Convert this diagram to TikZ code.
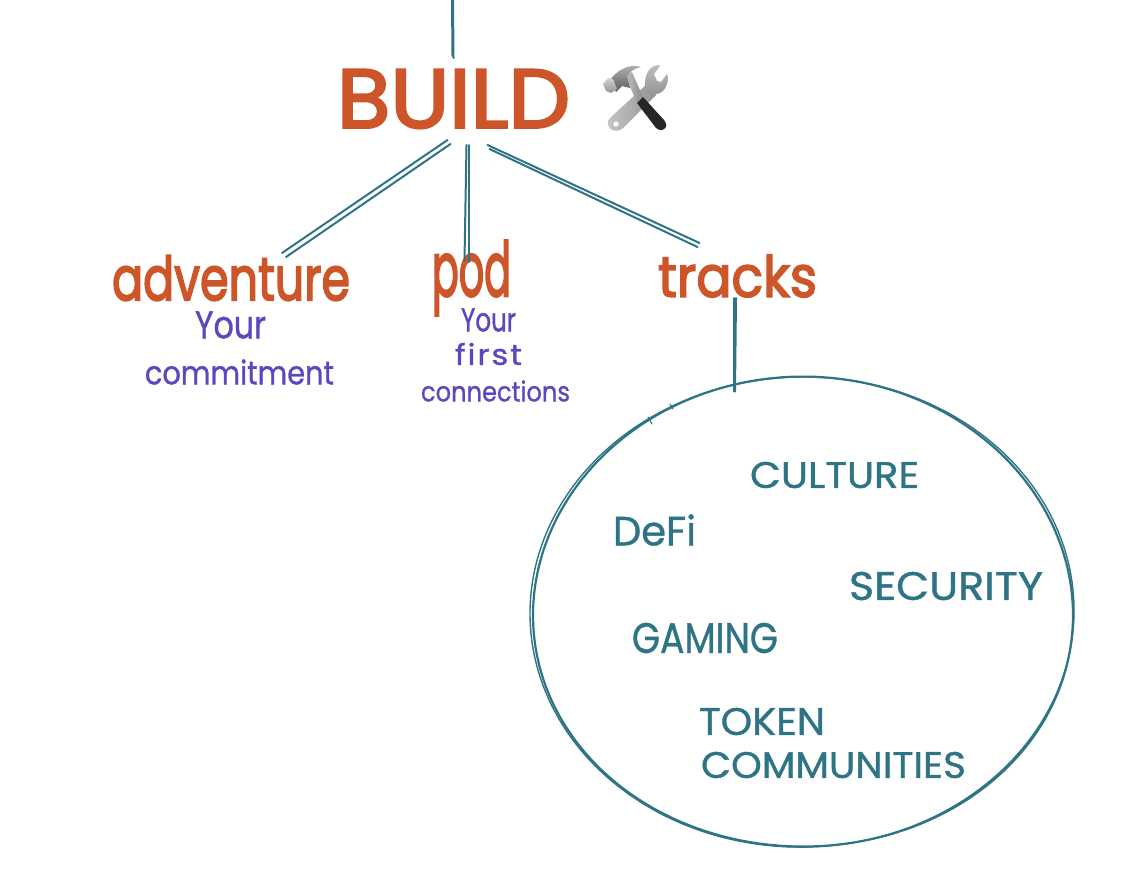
\documentclass[tikz,border=0pt]{standalone}
\usepackage{fontspec}
\usepackage{graphicx}
\setmainfont{Poppins}[Ligatures=CommonOff]
\usetikzlibrary{calc,shapes.geometric}
\definecolor{pen}{HTML}{CC5529}
\definecolor{teal}{HTML}{2F7485}
\definecolor{violet}{HTML}{5A48BF}
\tikzset{
  x=1pt,y=-1pt,
  word/.style={inner sep=0pt,outer sep=0pt,anchor=center},
  head/.style={word,text=pen},
  note/.style={word,text=violet},
  topic/.style={word,text=teal},
  sketch/.style={draw=teal,line width=2pt,line cap=round,line join=round},
  outline/.style={draw=teal,line width=2.2pt,line cap=round,line join=round},
}
% word fitted to its measured box
\newcommand{\fitw}[3]{\resizebox{#1pt}{#2pt}{#3}}
\begin{document}
\begin{tikzpicture}
\useasboundingbox (0,0) rectangle (1142,886);
\fill[white] (0,0) rectangle (1142,886);
% headings
\node[head] (build) at (453.5,99) {\fitw{233}{58}{\addfontfeature{FakeBold=3}BUILD}};
\node[head] (adventure) at (231,278) {\fitw{238}{45}{\addfontfeature{FakeBold=3}adventure}};
\node[head] (pod) at (471.5,278) {\fitw{79}{56}{\addfontfeature{FakeBold=3}pod}};
\node[head] (tracks) at (737.5,276) {\fitw{159}{42}{\addfontfeature{FakeBold=3}tracks}};
% notes
\node[note] (your1) at (230.5,325) {\fitw{71}{27}{\addfontfeature{FakeBold=1}Your}};
\node[note] (commitment) at (239.5,372) {\fitw{189}{25}{\addfontfeature{FakeBold=1}commitment}};
\node[note] (your2) at (488.5,320) {\fitw{55}{23}{\addfontfeature{FakeBold=1}Your}};
\node[note] (firstw) at (488.5,354) {\fitw{67}{22}{\addfontfeature{LetterSpace=6,FakeBold=1}first}};
\node[note] (connections) at (495.5,391) {\fitw{149}{21}{\addfontfeature{FakeBold=1}connections}};
% topics
\node[topic] (culture) at (834.5,475) {\fitw{169}{26}{\addfontfeature{FakeBold=1}CULTURE}};
\node[topic] (defi) at (654.5,530) {\fitw{83}{31}{\addfontfeature{FakeBold=1}DeFi}};
\node[topic] (security) at (946,586) {\fitw{194}{28}{\addfontfeature{FakeBold=1}SECURITY}};
\node[topic] (gaming) at (705,638) {\fitw{146}{30}{\addfontfeature{FakeBold=1}GAMING}};
\node[topic] (token) at (762,721.5) {\fitw{126}{27}{\addfontfeature{FakeBold=1}TOKEN}};
\node[topic] (communities) at (833.5,765) {\fitw{265}{26}{\addfontfeature{FakeBold=1}COMMUNITIES}};
% pool outline: two overlapping hand strokes
\node[ellipse,minimum width=542pt,minimum height=471pt,inner sep=0pt] (pool) at (803,612.5) {};
\draw[outline] plot[smooth,samples=80,domain=190:570,variable=\t] ({803+270*cos(\t)*(1+0.004*sin(3*\t))},{612.5+235*sin(\t)*(1+0.004*sin(3*\t))});
\draw[outline,line width=1.4pt] plot[smooth,samples=80,domain=130:490,variable=\t] ({802+271*cos(\t)*(1+0.005*cos(2*\t+40))},{612+236*sin(\t)*(1+0.005*cos(2*\t+40))});
% small pen ticks
\draw[sketch,line width=1.1pt] (648,417) -- (652,424);
\draw[sketch,line width=1.1pt] (670,404) -- (673,409);
% connectors
\coordinate (topstart) at (452,0);
\draw[sketch] (topstart) -- ([shift={(-1,-43)}]build.center);
\draw[sketch] ([xshift=1pt]topstart) -- ([shift={(0,-41)}]build.center);
\draw[sketch] ([shift={(-6,41)}]build.center) -- ([shift={(51,-25)}]adventure.center);
\draw[sketch] ([shift={(-3,45)}]build.center) -- ([shift={(55,-21)}]adventure.center);
\draw[sketch] ([shift={(13,46)}]build.center) -- ([shift={(-7,-18)}]pod.center);
\draw[sketch] ([shift={(15,46)}]build.center) -- ([shift={(-3,-16)}]pod.center);
\draw[sketch] ([shift={(34,46)}]build.center) -- ([shift={(-38,-33)}]tracks.center);
\draw[sketch] ([shift={(36,50)}]build.center) -- ([shift={(-40,-29)}]tracks.center);
\draw[sketch] ([shift={(-3.5,22)}]tracks.center) -- ([shift={(-69,-221)}]pool.center);
\draw[sketch] ([shift={(-1.5,22)}]tracks.center) -- ([shift={(-68,-221)}]pool.center);
% hammer and wrench
\begin{scope}
  % wrench shaft and ring
  \shade[left color=gray!45,right color=gray!85] (611,117) -- (646,85) -- (656,95) -- (623,128) .. controls (618,133) and (609,131) .. (608,125) .. controls (607,121) and (609,119) .. (611,117) -- cycle;
  \fill[white] (616,124) circle (2.6pt);
  % wrench jaw
  \shade[top color=gray!50,bottom color=gray!85] (645,88) .. controls (644,75) and (649,66) .. (658,65) -- (660,66) -- (654,74) -- (657,81) -- (661,82) -- (667,74) .. controls (669,76) and (668,86) .. (663,91) .. controls (659,95) and (652,95) .. (647,93) -- cycle;
  % hammer handle
  \shade[left color=gray!50,right color=gray!90] (625,75) -- (632,72) -- (643,97) -- (637,103) -- cycle;
  \fill[black!85] (637,103) -- (643,97) -- (664,120) .. controls (667,124) and (667,127) .. (664,129) .. controls (661,131) and (658,130) .. (656,128) -- cycle;
  % hammer head
  \shade[top color=gray!55,bottom color=black!65] (610,80) .. controls (617,70) and (630,63) .. (641,67) .. controls (634,69) and (630,71) .. (627,76) -- (630,88) -- (622,86) -- (616,92) -- cycle;
  \shade[top color=gray!35,bottom color=gray!85] (603,84) -- (608,78) -- (613,79) -- (617,89) -- (611,93) -- (606,91) -- cycle;
\end{scope}
\end{tikzpicture}
\end{document}
